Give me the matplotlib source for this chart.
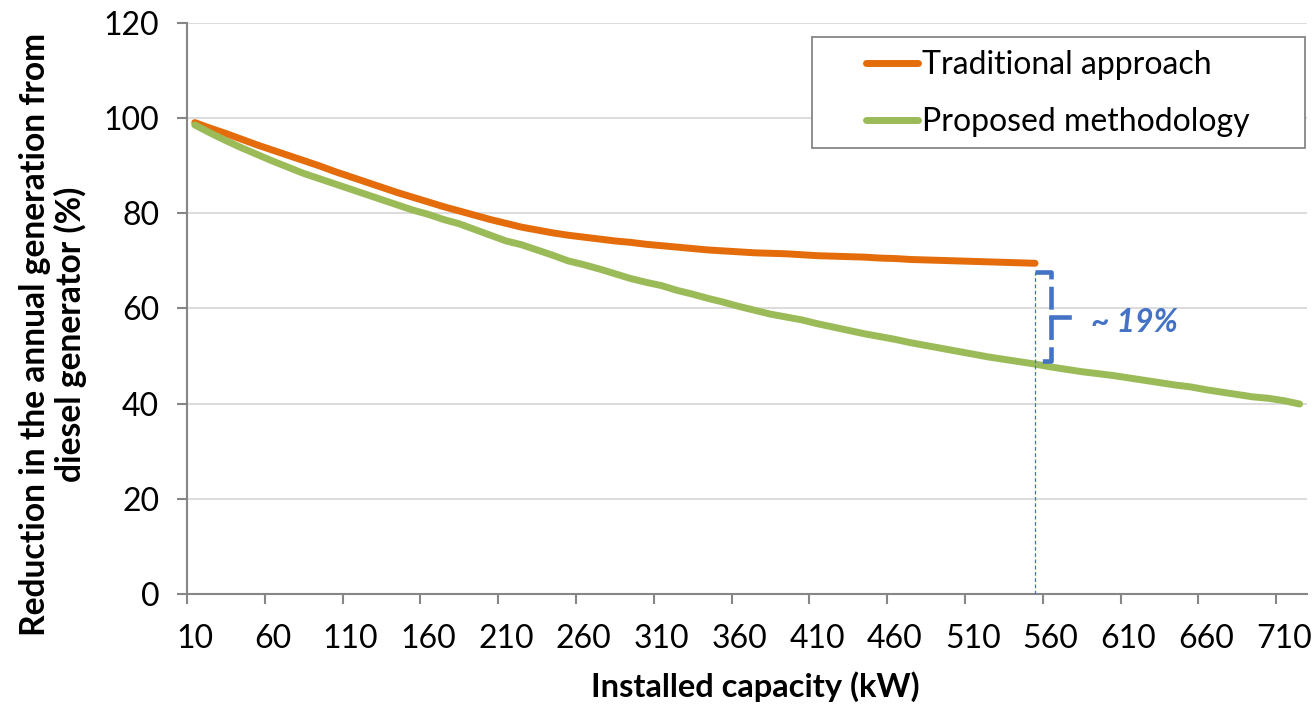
import numpy as np
import matplotlib
matplotlib.use("Agg")
import matplotlib.pyplot as plt
from matplotlib.patches import Rectangle

plt.rcParams["font.family"] = ["Lato", "DejaVu Sans"]

# installed capacity in kW, one category every 10 kW
capacity_traditional = list(range(10, 551, 10))
capacity_proposed = list(range(10, 721, 10))

traditional = [
    99.1, 97.9, 96.8, 95.6, 94.4, 93.3, 92.2, 91.1, 90.0, 88.8,
    87.7, 86.6, 85.5, 84.4, 83.4, 82.4, 81.4, 80.5, 79.6, 78.7,
    77.9, 77.1, 76.5, 75.9, 75.4, 75.0, 74.6, 74.2, 73.9, 73.5,
    73.2, 72.9, 72.6, 72.3, 72.1, 71.9, 71.7, 71.6, 71.5, 71.3,
    71.1, 71.0, 70.9, 70.8, 70.6, 70.5, 70.3, 70.2, 70.1, 70.0,
    69.9, 69.8, 69.7, 69.6, 69.5,
]

proposed = [
    98.6, 96.9, 95.3, 93.8, 92.4, 91.0, 89.7, 88.4, 87.3, 86.2,
    85.1, 84.0, 82.9, 81.8, 80.7, 79.8, 78.7, 77.8, 76.6, 75.4,
    74.2, 73.4, 72.3, 71.2, 70.0, 69.2, 68.3, 67.3, 66.3, 65.5,
    64.8, 63.8, 63.0, 62.1, 61.3, 60.4, 59.6, 58.8, 58.2, 57.6,
    56.8, 56.1, 55.4, 54.7, 54.1, 53.5, 52.8, 52.2, 51.6, 51.0,
    50.4, 49.8, 49.3, 48.8, 48.3, 47.7, 47.2, 46.7, 46.3, 45.9,
    45.4, 44.9, 44.4, 43.9, 43.5, 42.9, 42.4, 41.9, 41.4, 41.1,
    40.6, 39.9,
]

tick_labels = [str(v) for v in range(10, 711, 50)]
gap_label = "~ 19%"
compare_at = 550

ORANGE = "#E46C0A"
GREEN = "#9BBB59"
BLUE = "#4472C4"
AXIS_GREY = "#868686"
FS = 23

fig = plt.figure(figsize=(13.15, 7.09), dpi=100)
ax = fig.add_axes([0.1422, 0.1626, 0.852, 0.8047])

ax.plot(capacity_traditional, traditional, color=ORANGE, lw=5,
        solid_capstyle="round", solid_joinstyle="round",
        label="Traditional approach", zorder=3)
ax.plot(capacity_proposed, proposed, color=GREEN, lw=5,
        solid_capstyle="round", solid_joinstyle="round",
        label="Proposed methodology", zorder=3)

# difference bracket between the two curves at the comparison point
i = capacity_traditional.index(compare_at)
top = traditional[i] - 1.8
bottom = proposed[capacity_proposed.index(compare_at)] + 0.6
ax.plot([compare_at, compare_at], [0, top], color=BLUE, lw=0.9,
        ls=(0, (3, 2)), zorder=4)
ax.plot([compare_at, compare_at + 10.5, compare_at + 10.5, compare_at],
        [top, top, bottom, bottom], color=BLUE, lw=3.3,
        ls=(0, (5, 1.6)), zorder=4)
mid = (top + bottom) / 2
ax.plot([compare_at + 10.5, compare_at + 22], [mid, mid], color=BLUE,
        lw=3.3, zorder=4)
ax.text(compare_at + 36, mid - 1.3, gap_label, color=BLUE, fontsize=FS,
        fontweight="bold", fontstyle="italic", ha="left", va="center")

ax.set_xlim(5, 725)
ax.set_ylim(0, 120)
ax.set_yticks(np.arange(0, 121, 20))
ax.set_xticks(np.arange(5, 710, 50))
ax.set_xticklabels([])
ax.set_xticks(np.arange(10, 711, 50), minor=True)
ax.set_xticklabels(tick_labels, minor=True)

ax.grid(axis="y", color="#D9D9D9", lw=1.3)
ax.set_axisbelow(True)
for side in ("top", "right"):
    ax.spines[side].set_visible(False)
for side in ("left", "bottom"):
    ax.spines[side].set_color(AXIS_GREY)
    ax.spines[side].set_linewidth(1.5)

ax.tick_params(axis="x", which="major", length=7, width=1.5,
               color=AXIS_GREY)
ax.tick_params(axis="x", which="minor", length=0, pad=22, labelsize=FS)
ax.tick_params(axis="y", length=7, width=1.5, color=AXIS_GREY,
               pad=13, labelsize=FS)

ax.set_xlabel("Installed capacity (kW)", fontsize=FS + 0.5,
              fontweight="bold", labelpad=12)
ax.xaxis.label.set_x(0.507)
ax.set_ylabel("Reduction in the annual generation from\ndiesel generator (%)",
              fontsize=FS + 1.2, fontweight="bold", labelpad=12,
              linespacing=1.1)
ax.yaxis.label.set_y(0.455)

# legend box is drawn separately so it can have the wide left margin
leg = ax.legend(loc="upper left", bbox_to_anchor=(866 / 1315, 1 - 50 / 709),
                bbox_transform=fig.transFigure, fontsize=FS,
                handlelength=1.62, handletextpad=0.12, labelspacing=0.85,
                borderpad=0, borderaxespad=0, frameon=False)
leg.set_zorder(6)
ax.add_patch(Rectangle((812 / 1315, 1 - 148 / 709), 493 / 1315, 111 / 709,
                       transform=fig.transFigure, facecolor="white",
                       edgecolor=AXIS_GREY, lw=1.3, zorder=5,
                       clip_on=False))

fig.savefig("out.png", dpi=100)
